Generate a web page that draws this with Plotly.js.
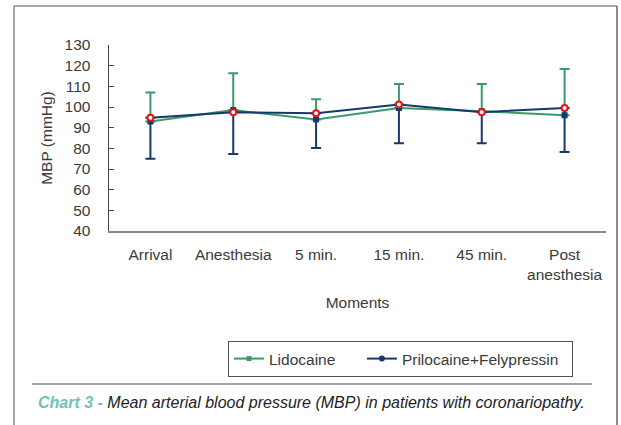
<!DOCTYPE html>
<html>
<head>
<meta charset="utf-8">
<script src="https://cdn.plot.ly/plotly-3.0.1.min.js"></script>
<style>
html,body{margin:0;padding:0;background:#fff;}
#chart{width:621px;height:425px;}
</style>
</head>
<body>
<div id="chart"></div>
<script>
const moments = ["Arrival", "Anesthesia", "5 min.", "15 min.", "45 min.", "Post<br>anesthesia"];
const lidocaineMean = [93, 98.5, 94, 99.5, 98, 96];
const lidocaineSD = [14, 17.8, 9.7, 11.6, 13.1, 22.4];
const prilocaineMean = [94.8, 97.5, 97, 101.2, 97.5, 99.5];
const prilocaineSD = [19.8, 20.2, 16.8, 18.8, 15, 21.3];
const yTicks = [40, 50, 60, 70, 80, 90, 100, 110, 120, 130];

const green = '#3a9a6a';
const navy = '#16396b';
const zeros = moments.map(() => 0);

// paper-coordinate helpers (plot area: x 109..606, y 45..231 px)
const PX = p => (p - 109) / 497;
const PY = p => (231 - p) / 186;

const traces = [
  {
    x: moments, y: lidocaineMean, type: 'scatter', mode: 'lines+markers',
    name: 'Lidocaine', showlegend: false,
    line: {color: green, width: 2},
    marker: {symbol: 'square', size: 6, color: navy},
    error_y: {type: 'data', symmetric: false, array: lidocaineSD, arrayminus: zeros,
      color: green, thickness: 2, width: 5}
  },
  {
    x: moments, y: prilocaineMean, type: 'scatter', mode: 'lines+markers',
    name: 'Prilocaine+Felypressin', showlegend: false,
    line: {color: navy, width: 2},
    marker: {symbol: 'circle', size: 6, color: 'white', line: {color: '#e8141c', width: 2}},
    error_y: {type: 'data', symmetric: false, array: zeros, arrayminus: prilocaineSD,
      color: navy, thickness: 2, width: 5}
  },
  {
    x: [null], y: [null], type: 'scatter', mode: 'lines+markers',
    name: 'Lidocaine&nbsp;&nbsp;&nbsp;&nbsp;&nbsp;', line: {color: green, width: 2},
    marker: {symbol: 'square', size: 5, color: green}
  },
  {
    x: [null], y: [null], type: 'scatter', mode: 'lines+markers',
    name: 'Prilocaine+Felypressin&nbsp;&nbsp;', line: {color: navy, width: 2},
    marker: {symbol: 'circle', size: 6, color: navy}
  }
];

const font = {family: 'Liberation Sans, Arial, sans-serif', size: 15.5, color: '#3a3a3a'};

const layout = {
  width: 621, height: 425,
  margin: {l: 109, r: 15, t: 45, b: 194, pad: 0},
  paper_bgcolor: '#fff', plot_bgcolor: '#fff',
  font: font,
  showlegend: true,
  xaxis: {
    type: 'category', categoryorder: 'array', categoryarray: moments,
    range: [-0.5, 5.5], showgrid: false, zeroline: false,
    showline: true, linecolor: '#888', linewidth: 2,
    ticks: '', tickfont: font, ticklabelstandoff: 8,
    title: {text: 'Moments', font: font, standoff: 15}
  },
  yaxis: {
    range: [40, 130], tickvals: yTicks, ticktext: yTicks.map(String),
    showgrid: false, zeroline: false,
    showline: true, linecolor: '#444', linewidth: 1.5,
    ticks: 'inside', ticklen: 5, tickcolor: '#444', tickwidth: 1,
    ticklabelstandoff: 14, tickfont: font,
    title: {text: 'MBP (mmHg)', font: font, standoff: 8}
  },
  legend: {
    orientation: 'h', x: PX(228), y: PY(341), xanchor: 'left', yanchor: 'top',
    bordercolor: '#555', borderwidth: 1, bgcolor: '#fff',
    font: font, itemwidth: 30, traceorder: 'normal'
  },
  shapes: [
    {type: 'line', xref: 'paper', yref: 'paper', x0: PX(14), x1: PX(14), y0: PY(6), y1: PY(430),
      line: {color: '#888', width: 1.5}},
    {type: 'line', xref: 'paper', yref: 'paper', x0: PX(14), x1: PX(617), y0: PY(6), y1: PY(6),
      line: {color: '#888', width: 1.5}},
    {type: 'line', xref: 'paper', yref: 'paper', x0: PX(617), x1: PX(617), y0: PY(6), y1: PY(430),
      line: {color: '#666', width: 1.5}},
    {type: 'line', xref: 'paper', yref: 'paper', x0: PX(32), x1: PX(592), y0: PY(384), y1: PY(384),
      line: {color: '#888', width: 1.5}}
  ],
  annotations: [
    {
      xref: 'paper', yref: 'paper', x: PX(36), y: PY(402), xanchor: 'left', yanchor: 'middle',
      showarrow: false, align: 'left',
      text: '<span style="color:#6fc3b5;font-weight:bold">Chart 3 -</span> Mean arterial blood pressure (MBP) in patients with coronariopathy.',
      font: {family: 'Liberation Sans, Arial, sans-serif', size: 16, color: '#222', style: 'italic'}
    }
  ]
};

Plotly.newPlot('chart', traces, layout, {displayModeBar: false, staticPlot: true});
</script>
</body>
</html>
